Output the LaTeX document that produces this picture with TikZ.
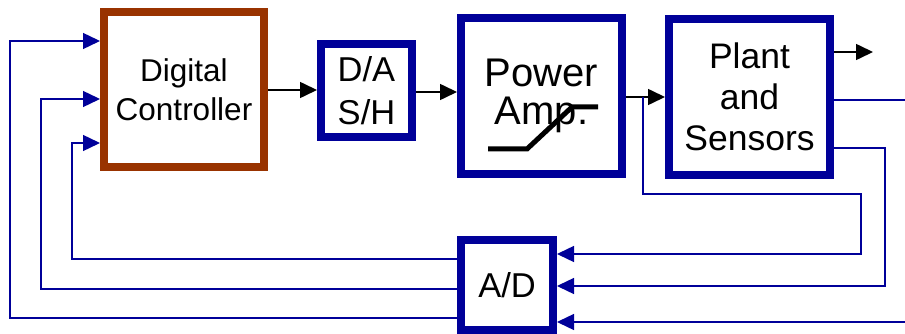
\documentclass[tikz,border=0pt]{standalone}
\usepackage{fontspec}
\setmainfont{Liberation Sans}
\usetikzlibrary{arrows.meta,positioning,calc}
\definecolor{ctrlbrown}{HTML}{993300}
\definecolor{blkblue}{HTML}{000099}

\begin{document}
\begin{tikzpicture}[x=1pt,y=-1pt,
    blk/.style={draw=blkblue,line width=8pt,fill=white,inner sep=0pt,align=center},
    sig/.style={-{Triangle[length=17pt,width=16pt]},line width=1.6pt,black},
    fb/.style={-{Triangle[length=17pt,width=16pt]},line width=1.4pt,blkblue}]
    \useasboundingbox (0,0) rectangle (905,334);

    \node[blk,draw=ctrlbrown,minimum width=160pt,minimum height=155pt,
        font=\fontsize{31.5}{39}\selectfont] (dc) at (184,90) {Digital\\Controller};
    \node[blk,minimum width=91pt,minimum height=93pt,
        font=\fontsize{34.5}{43}\selectfont] (da) at (366.5,90.5) {D/A\\S/H};
    \node[blk,minimum width=161pt,minimum height=156pt,
        font=\fontsize{40}{38}\selectfont] (pa) at (541.5,96) {Power\\Amp.};
    \node[blk,minimum width=161pt,minimum height=156pt,
        font=\fontsize{35.5}{41}\selectfont] (plant) at (749.5,97) {Plant\\and\\Sensors};
    \node[blk,minimum width=92pt,minimum height=90pt,
        font=\fontsize{34.5}{40}\selectfont] (ad) at (507,285) {A/D};

    \draw[line width=5pt] (488,149) -- (527,149) -- (572,107) -- (598,107);

    \coordinate (out) at (873,52);
    \coordinate (r1) at (905,100);
    \coordinate (r3) at (905,322);
    \coordinate (br) at (643,97);

    \draw[sig] (dc.east |- 0,90) -- (da.west |- 0,90);
    \draw[sig] (da.east |- 0,92) -- (pa.west |- 0,92);
    \draw[sig] (pa.east |- br) -- (plant.west |- br);
    \draw[sig] (plant.east |- out) -- (out);

    \draw[line width=1.4pt,blkblue] (plant.east |- r1) -- (r1);
    \draw[fb] (br) |- (861,194) |- (ad.east |- 0,254);
    \draw[fb] (plant.east |- 0,148) -| (885,286) -- (ad.east |- 0,286);
    \draw[fb] (r3) -- (ad.east |- r3);

    \draw[fb] (ad.west |- 0,259) -| (72,143) -- (dc.west |- 0,143);
    \draw[fb] (ad.west |- 0,289) -| (41,99) -- (dc.west |- 0,99);
    \draw[fb] (ad.west |- 0,318) -| (10,41) -- (dc.west |- 0,41);
\end{tikzpicture}
\end{document}
